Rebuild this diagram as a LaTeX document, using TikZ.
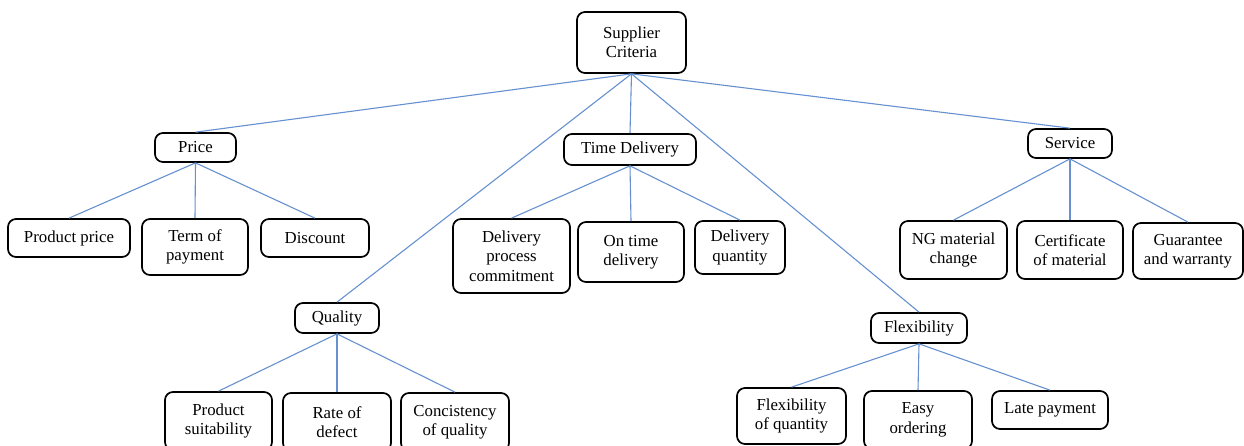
\documentclass[tikz,border=0pt]{standalone}
\usepackage{fontspec}
\setmainfont{Liberation Serif}
\definecolor{conn}{RGB}{102,145,208}
\begin{document}
\begin{tikzpicture}[x=1pt,y=-1pt,
  box/.style={draw=black,line width=1.7pt,rounded corners=8pt,align=center,inner sep=0pt,
    font=\fontsize{16.8}{19.5}\selectfont},
  link/.style={draw=conn,line width=1.1pt}]
\clip (0,0) rectangle (1244,445);
\useasboundingbox (0,0) rectangle (1244,445);
\node[box,minimum width=109pt,minimum height=61pt] (sc) at (631.5,42.5) {Supplier\\Criteria};
\node[box,minimum width=81pt,minimum height=29pt] (price) at (195.5,147.5) {Price};
\node[box,minimum width=122pt,minimum height=38pt] (pp) at (69,238) {Product price};
\node[box,minimum width=106pt,minimum height=56pt] (tp) at (195,247) {Term of\\payment};
\node[box,minimum width=108pt,minimum height=38pt] (disc) at (315,238) {Discount};
\node[box,minimum width=132pt,minimum height=31pt] (td) at (630,149.5) {Time Delivery};
\node[box,minimum width=117pt,minimum height=74pt] (dpc) at (511.5,256) {Delivery\\process\\commitment};
\node[box,minimum width=106pt,minimum height=60pt] (otd) at (631,252) {On time\\delivery};
\node[box,minimum width=90pt,minimum height=53pt] (dq) at (740,247.5) {Delivery\\quantity};
\node[box,minimum width=84pt,minimum height=29pt] (serv) at (1070,143.5) {Service};
\node[box,minimum width=107pt,minimum height=58pt] (ng) at (953.5,250) {NG material\\change};
\node[box,minimum width=106pt,minimum height=58pt] (cert) at (1070,250) {Certificate\\of material};
\node[box,minimum width=110pt,minimum height=56pt] (guar) at (1188,251) {Guarantee\\and warranty};
\node[box,minimum width=84pt,minimum height=30pt] (qual) at (337,318) {Quality};
\node[box,minimum width=107pt,minimum height=58pt] (ps) at (218.5,421) {Product\\suitability};
\node[box,minimum width=108pt,minimum height=58pt] (rod) at (337,422) {Rate of\\defect};
\node[box,minimum width=108pt,minimum height=58pt] (coq) at (455,422) {Concistency\\of quality};
\node[box,minimum width=96pt,minimum height=30pt] (flex) at (919,328) {Flexibility};
\node[box,minimum width=109pt,minimum height=56pt] (foq) at (791.5,416) {Flexibility\\of quantity};
\node[box,minimum width=108pt,minimum height=58pt] (eo) at (918,420) {Easy\\ordering};
\node[box,minimum width=116pt,minimum height=38pt] (lp) at (1050,410) {Late payment};
\foreach \c in {price,td,serv,qual,flex} \draw[link] (sc.south) -- (\c.north);
\foreach \c in {pp,tp,disc} \draw[link] (price.south) -- (\c.north);
\foreach \c in {dpc,otd,dq} \draw[link] (td.south) -- (\c.north);
\foreach \c in {ng,cert,guar} \draw[link] (serv.south) -- (\c.north);
\foreach \c in {ps,rod,coq} \draw[link] (qual.south) -- (\c.north);
\foreach \c in {foq,eo,lp} \draw[link] (flex.south) -- (\c.north);
\end{tikzpicture}
\end{document}
